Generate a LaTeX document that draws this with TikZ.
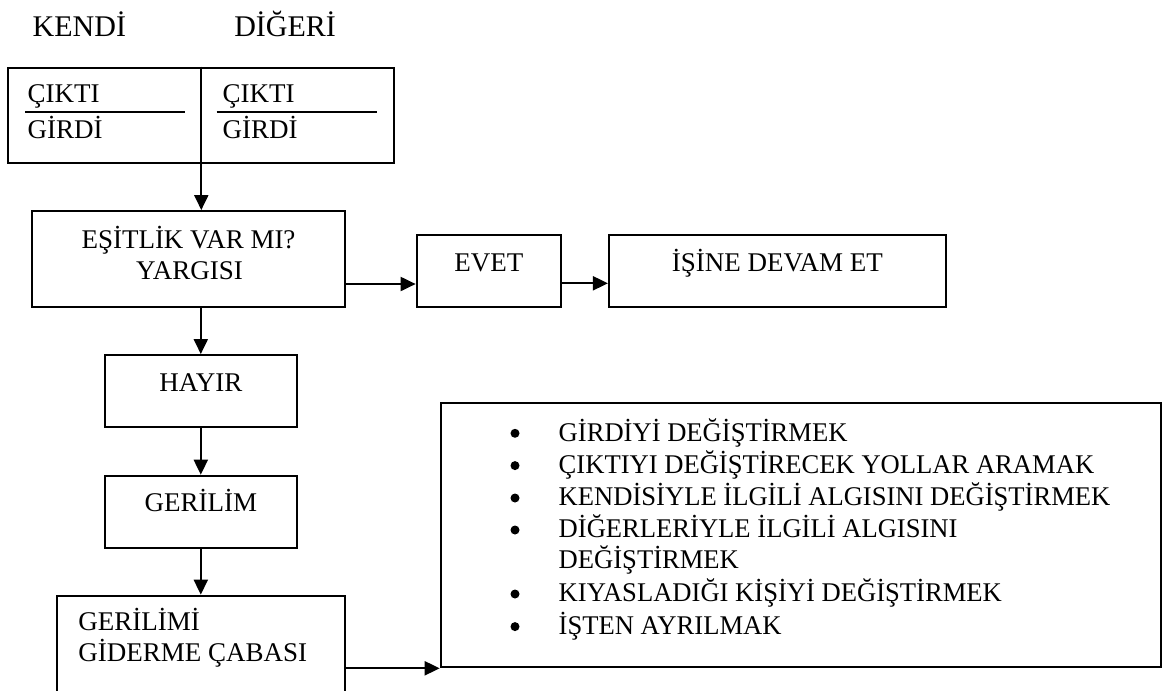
\documentclass[tikz,border=0pt]{standalone}
\usepackage{fontspec}
\setmainfont{Liberation Serif}
\newfontfamily\narrowfont[FakeStretch=0.985]{Liberation Serif}
\usetikzlibrary{arrows.meta}
\newcommand\myfs{\fontsize{27}{31}\selectfont}
\newcommand\mytitlefs{\fontsize{30}{34}\selectfont}
\begin{document}
\begin{tikzpicture}[x=1pt,y=-1pt,line width=2pt,
  box/.style={draw,line width=2pt,inner sep=0pt,font=\myfs,text height=18pt,text depth=18pt},
  frame/.style={draw,line width=2pt,inner sep=0pt},
  txt/.style={inner sep=0pt,font=\myfs},
  ltxt/.style={inner sep=0pt,font=\narrowfont\myfs,anchor=base west},
  arr/.style={-{Triangle[length=15pt,width=14pt]},line width=2pt},
  dot/.style={circle,fill,inner sep=0pt,minimum size=9pt}]
\useasboundingbox (0,0) rectangle (1168,691);

% titles
\node[inner sep=0pt,font=\mytitlefs,anchor=base west] (kendi) at (31.7,36) {KENDİ};
\node[inner sep=0pt,font=\mytitlefs,anchor=base west] (diger) at (233.3,36) {DİĞERİ};

% top box
\node[frame,minimum width=386pt,minimum height=95pt] (top) at (201.3,115.2) {};
\node[txt,anchor=base west] (c1) at (26.7,102.3) {ÇIKTI};
\node[txt,anchor=base west] (g1) at (26.7,138.3) {GİRDİ};
\node[txt,anchor=base west] (c2) at (221.7,102.3) {ÇIKTI};
\node[txt,anchor=base west] (g2) at (221.7,138.3) {GİRDİ};
\draw (25,111.7) -- (185,111.7);
\draw (216.7,111.7) -- (376.7,111.7);

% decision box
\node[frame,minimum width=312.7pt,minimum height=96.3pt] (eq) at (188.7,259.2) {};
\node[txt,anchor=base] (eq1) at (188.5,248) {EŞİTLİK VAR MI?};
\node[txt,anchor=base] (eq2) at (189.5,279) {YARGISI};

\node[box,minimum width=144.3pt,minimum height=72.3pt] (evet) at (488.8,271.2) {EVET};
\node[box,minimum width=336.7pt,minimum height=72.3pt] (devam) at (777.3,271.2) {İŞİNE DEVAM ET};

\node[box,minimum width=191.7pt,minimum height=72.3pt] (hayir) at (200.8,391.2) {HAYIR};
\node[box,minimum width=191.7pt,minimum height=72pt] (geril) at (200.8,511.7) {GERİLİM};

\node[frame,minimum width=288.3pt,minimum height=104.3pt] (gider) at (200.8,647.8) {};
\node[txt,anchor=base west] (gid1) at (77.3,630) {GERİLİMİ};
\node[txt,anchor=base west] (gid2) at (77.3,661.7) {GİDERME ÇABASI};

% list box
\node[frame,minimum width=720.3pt,minimum height=264pt] (list) at (800.85,535.3) {};
\node[dot] (b1) at (515,433.3) {};
\node[dot] (b2) at (515,465.6) {};
\node[dot] (b3) at (515,498) {};
\node[dot] (b4) at (515,530) {};
\node[dot] (b5) at (515,594) {};
\node[dot] (b6) at (515,626.6) {};
\node[ltxt] (l1) at (557.7,441) {GİRDİYİ DEĞİŞTİRMEK};
\node[ltxt] (l2) at (557.7,473.3) {ÇIKTIYI DEĞİŞTİRECEK YOLLAR ARAMAK};
\node[ltxt] (l3) at (557.7,505.7) {KENDİSİYLE İLGİLİ ALGISINI DEĞİŞTİRMEK};
\node[ltxt] (l4) at (557.7,537.7) {DİĞERLERİYLE İLGİLİ ALGISINI};
\node[ltxt] (l4b) at (557.7,568.7) {DEĞİŞTİRMEK};
\node[ltxt] (l5) at (557.7,601.7) {KIYASLADIĞI KİŞİYİ DEĞİŞTİRMEK};
\node[ltxt] (l6) at (557.7,634.3) {İŞTEN AYRILMAK};

% connectors
\draw[arr] (top.north) -- (top.north |- eq.north);
\draw[arr] (eq.east |- 0,284) -- (evet.west |- 0,284);
\draw[arr] (evet.east |- 0,283.3) -- (devam.west |- 0,283.3);
\draw[arr] (hayir.north |- eq.south) -- (hayir.north);
\draw[arr] (hayir.south) -- (geril.north);
\draw[arr] (geril.south) -- (gider.north);
\draw[arr] (gider.east |- list.south west) -- (list.south west);
\end{tikzpicture}
\end{document}
